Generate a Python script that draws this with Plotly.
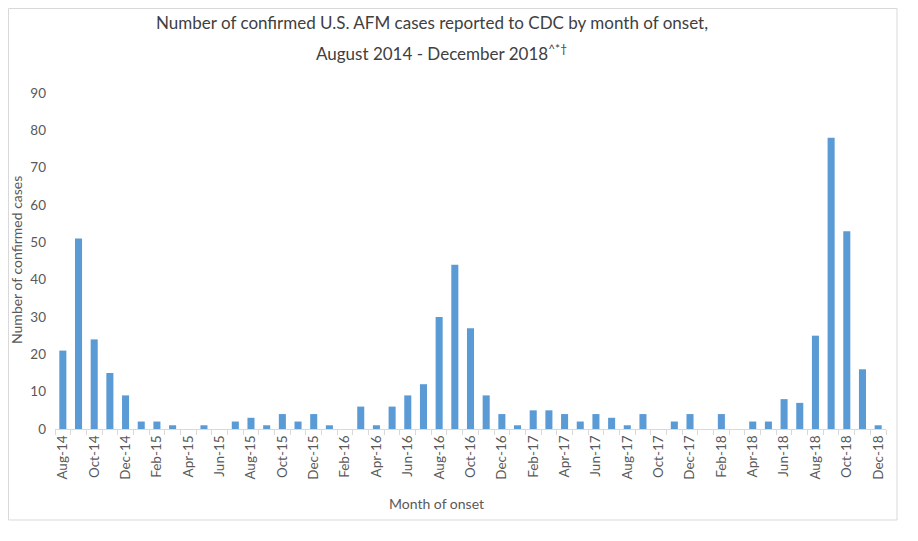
import plotly.graph_objects as go

months = ["Aug-14","Sep-14","Oct-14","Nov-14","Dec-14",
          "Jan-15","Feb-15","Mar-15","Apr-15","May-15","Jun-15","Jul-15","Aug-15","Sep-15","Oct-15","Nov-15","Dec-15",
          "Jan-16","Feb-16","Mar-16","Apr-16","May-16","Jun-16","Jul-16","Aug-16","Sep-16","Oct-16","Nov-16","Dec-16",
          "Jan-17","Feb-17","Mar-17","Apr-17","May-17","Jun-17","Jul-17","Aug-17","Sep-17","Oct-17","Nov-17","Dec-17",
          "Jan-18","Feb-18","Mar-18","Apr-18","May-18","Jun-18","Jul-18","Aug-18","Sep-18","Oct-18","Nov-18","Dec-18"]

cases = [21, 51, 24, 15, 9,
         2, 2, 1, 0, 1, 0, 2, 3, 1, 4, 2, 4,
         1, 0, 6, 1, 6, 9, 12, 30, 44, 27, 9, 4,
         1, 5, 5, 4, 2, 4, 3, 1, 4, 0, 2, 4,
         0, 4, 0, 2, 2, 8, 7, 25, 78, 53, 16, 1]

tick_text = [m if i % 2 == 0 else "" for i, m in enumerate(months)]
y_ticks = list(range(0, 91, 10))

FONT = "Lato, 'Open Sans', sans-serif"
TXT = "#595959"

fig = go.Figure()
fig.add_trace(go.Bar(x=months, y=cases, marker=dict(color="#5B9BD5", line=dict(width=0)),
                     width=0.45))

# page has an 8px body margin; figure coordinates = page coordinates - 8
OFF = 8
W, H = 918 - OFF, 541 - OFF
L, R, T, B = 55 - OFF, 886 - OFF, 93 - OFF, 429 - OFF
def px(x):
    return (x - OFF - L) / (R - L)
def py(y):
    return (B - (y - OFF)) / (B - T)

fig.update_layout(
    width=W, height=H,
    margin=dict(l=L, r=W - R, t=T, b=H - B),
    paper_bgcolor="white", plot_bgcolor="white",
    showlegend=False,
    font=dict(family=FONT, color=TXT),
    xaxis=dict(type="category", categoryorder="array", categoryarray=months,
               tickmode="array", tickvals=months, ticktext=tick_text,
               tickson="boundaries", ticks="outside", ticklen=5, tickcolor="#D9D9D9",
               tickangle=-90, tickfont=dict(size=13.5, color=TXT, family=FONT),
               showline=True, linecolor="#D9D9D9", linewidth=1,
               showgrid=False, zeroline=False),
    yaxis=dict(range=[0, 90], tickmode="array", tickvals=y_ticks,
               showgrid=False, zeroline=False, showline=False, ticks="",
               ticklabelstandoff=8,
               tickfont=dict(size=13.5, color=TXT, family=FONT)),
    shapes=[dict(type="rect", xref="paper", yref="paper",
                 x0=px(OFF + 0.5), x1=px(897), y0=py(520), y1=py(OFF + 0.5),
                 line=dict(color="#D9D9D9", width=1), fillcolor="rgba(0,0,0,0)", layer="below")],
    annotations=[
        dict(text="Number of confirmed U.S. AFM cases reported to CDC by month of onset,",
             xref="paper", yref="paper", x=px(432), y=py(22), showarrow=False,
             xanchor="center", yanchor="middle", font=dict(size=17, color="#404040", family=FONT)),
        dict(text="August 2014 - December 2018<sup>^*†</sup>",
             xref="paper", yref="paper", x=px(441), y=py(53), showarrow=False,
             xanchor="center", yanchor="middle", font=dict(size=17, color="#404040", family=FONT)),
        dict(text="Month of onset", xref="paper", yref="paper", x=px(436), y=py(503),
             showarrow=False, xanchor="center", yanchor="middle",
             font=dict(size=14, color=TXT, family=FONT)),
        dict(text="Number of confirmed cases", xref="paper", yref="paper", x=px(16), y=py(260),
             showarrow=False, xanchor="center", yanchor="middle", textangle=-90,
             font=dict(size=14, color=TXT, family=FONT)),
    ],
)

fig.write_html("out.html")
